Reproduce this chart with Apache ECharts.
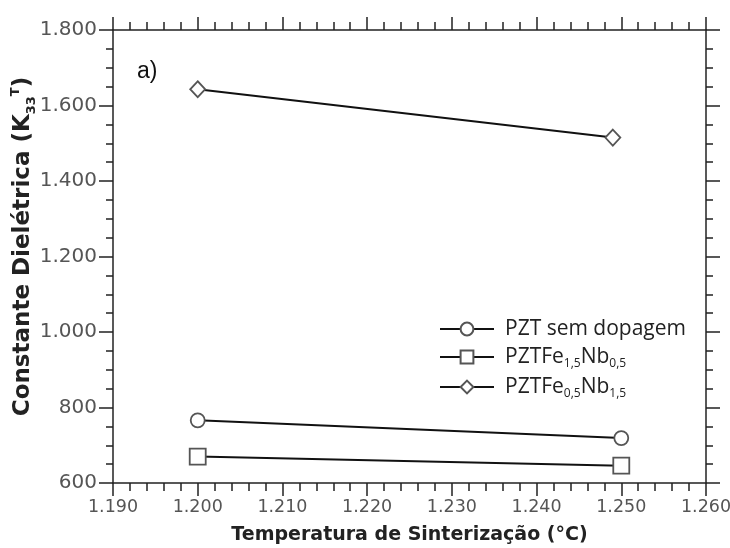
<!DOCTYPE html>
<html>
<head>
    <meta charset="utf-8">
    <script src="https://cdn.jsdelivr.net/npm/echarts@6/dist/echarts.min.js"></script>
</head>
<body style="margin: 0; background: #fff">
    <div id="main" style="width: 730px; height: 548px"></div>
    <script type="text/javascript">
        // temperatura de sinterizacao (°C)
        var temps = [1200, 1250];
        var tempsDiamond = [1200, 1249];
        // constante dieletrica
        var pztPuro = [766, 719];
        var pztFe15 = [670, 646];
        var pztFe05 = [1643, 1515];

        var nomes = ['PZT sem dopagem', 'PZTFe1,5Nb0,5', 'PZTFe0,5Nb1,5'];

        function fmt(v) {
            var s = String(Math.round(v));
            if (s.length > 3) s = s.slice(0, s.length - 3) + '.' + s.slice(-3);
            return s;
        }

        function pares(xs, ys) {
            return xs.map(function (x, i) { return [x, ys[i]]; });
        }

        var dom = document.getElementById('main');
        var myChart = echarts.init(dom, null, { renderer: 'canvas' });

        var tickX = { show: true, length: 13, lineStyle: { color: '#222', width: 1.5 } };
        var minorX = { show: true, splitNumber: 5, length: 8, lineStyle: { color: '#222', width: 1.5 } };
        var tickY = { show: true, length: 14, lineStyle: { color: '#222', width: 1.5 } };
        var minorY = { show: true, splitNumber: 4, length: 7, lineStyle: { color: '#222', width: 1.5 } };
        var linha = { show: true, lineStyle: { color: '#222', width: 1.5 } };

        var serieBase = {
            type: 'line',
            symbolSize: 14,
            lineStyle: { color: '#111', width: 2 },
            itemStyle: { color: '#fff', borderColor: '#555', borderWidth: 1.8 },
            z: 3
        };

        var option = {
            animation: false,
            grid: { left: 113, right: 24, top: 30, bottom: 65, containLabel: false, outerBoundsMode: 'none' },
            graphic: [{
                type: 'text', left: 137, top: 60,
                style: { text: 'a)', font: '23px "Liberation Sans"', fill: '#111' }
            }],
            legend: {
                orient: 'vertical',
                left: 434,
                top: 314,
                itemWidth: 54,
                itemHeight: 16,
                itemGap: 7,
                data: nomes,
                formatter: function (n) {
                    if (n === nomes[1]) return '{t|PZTFe}{s|1,5}{t|Nb}{s|0,5}';
                    if (n === nomes[2]) return '{t|PZTFe}{s|0,5}{t|Nb}{s|1,5}';
                    return '{t|' + n + '}';
                },
                textStyle: {
                    padding: [0, 0, 0, 6],
                    rich: {
                        t: { fontFamily: 'Open Sans', fontSize: 21, color: '#222', lineHeight: 22, verticalAlign: 'bottom' },
                        s: { fontFamily: 'Open Sans', fontSize: 12, color: '#222', lineHeight: 22, verticalAlign: 'bottom', padding: [0, 0, -2, 0] }
                    }
                }
            },
            xAxis: [{
                type: 'value',
                min: 1190, max: 1260, interval: 10,
                name: 'Temperatura de Sinterização (°C)',
                nameLocation: 'middle',
                nameGap: 43,
                nameMoveOverlap: false,
                nameTextStyle: { fontFamily: 'DejaVu Sans', fontWeight: 'bold', fontSize: 19, color: '#222' },
                axisLine: linha, axisTick: tickX, minorTick: minorX,
                splitLine: { show: false },
                axisLabel: { fontFamily: 'DejaVu Sans', fontSize: 17.5, color: '#555', margin: 15, formatter: fmt }
            }, {
                type: 'value', position: 'top',
                min: 1190, max: 1260, interval: 10,
                axisLine: linha, axisTick: tickX, minorTick: minorX,
                splitLine: { show: false },
                axisLabel: { show: false }
            }],
            yAxis: [{
                type: 'value',
                min: 600, max: 1800, interval: 200,
                name: '{b|Constante Dielétrica (K}{sub|33}{sup|T}{b|)}',
                nameLocation: 'middle',
                nameGap: 78,
                nameMoveOverlap: false,
                nameTextStyle: {
                    padding: [0, 0, 0, 20],
                    rich: {
                        b: { fontFamily: 'DejaVu Sans', fontWeight: 'bold', fontSize: 23, color: '#222', lineHeight: 26, verticalAlign: 'bottom' },
                        sub: { fontFamily: 'DejaVu Sans', fontWeight: 'bold', fontSize: 13, color: '#222', lineHeight: 26, verticalAlign: 'bottom', padding: [0, 0, -3, 0] },
                        sup: { fontFamily: 'DejaVu Sans', fontWeight: 'bold', fontSize: 13, color: '#222', lineHeight: 26, verticalAlign: 'top' }
                    }
                },
                axisLine: linha, axisTick: tickY, minorTick: minorY,
                splitLine: { show: false },
                axisLabel: { fontFamily: 'DejaVu Sans', fontSize: 20, color: '#555', margin: 16, formatter: fmt }
            }, {
                type: 'value', position: 'right',
                min: 600, max: 1800, interval: 200,
                axisLine: linha, axisTick: tickY, minorTick: minorY,
                splitLine: { show: false },
                axisLabel: { show: false }
            }],
            series: [
                Object.assign({}, serieBase, { name: nomes[0], symbol: 'circle', data: pares(temps, pztPuro) }),
                Object.assign({}, serieBase, { name: nomes[1], symbol: 'rect', symbolSize: 16, data: pares(temps, pztFe15) }),
                Object.assign({}, serieBase, { name: nomes[2], symbol: 'diamond', symbolSize: [15, 16], data: pares(tempsDiamond, pztFe05) })
            ]
        };

        myChart.setOption(option);
        window.addEventListener('resize', myChart.resize);
    </script>
</body>
</html>
